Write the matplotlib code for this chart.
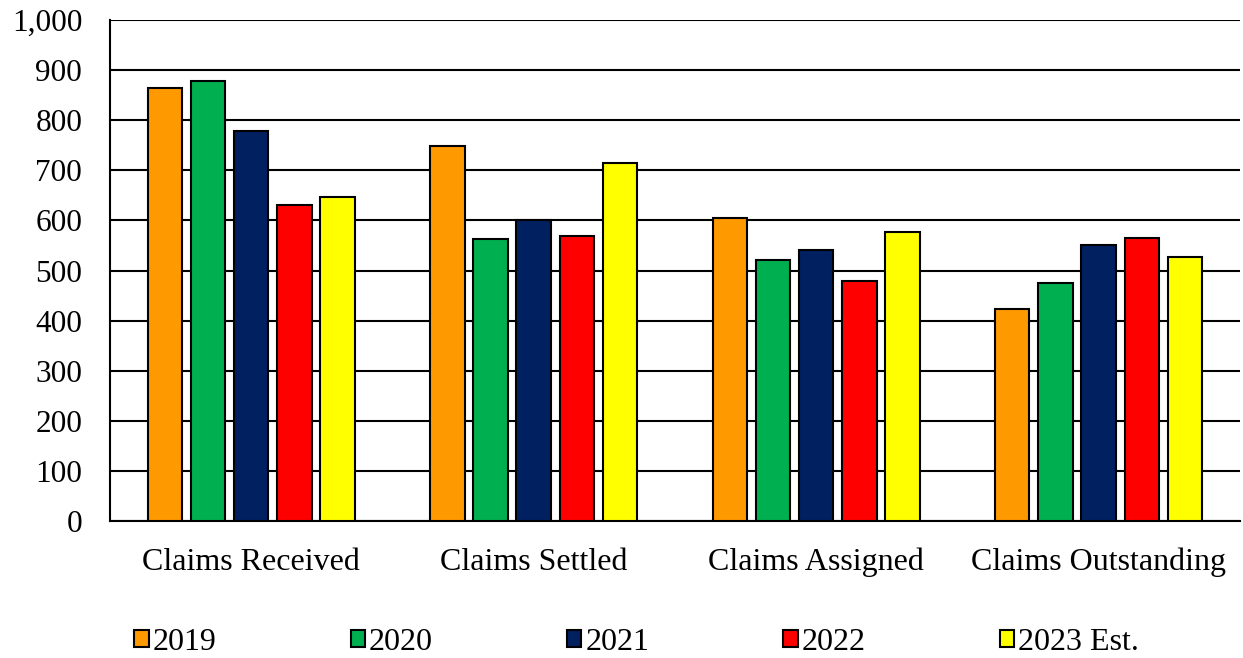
import numpy as np
import matplotlib.pyplot as plt
from matplotlib.ticker import FuncFormatter

plt.rcParams['font.family'] = ['Liberation Serif', 'DejaVu Serif']

categories = ['Claims Received', 'Claims Settled', 'Claims Assigned', 'Claims Outstanding']
series_labels = ['2019', '2020', '2021', '2022', '2023 Est.']
values_2019 = [865, 748, 605, 423]
values_2020 = [878, 563, 522, 475]
values_2021 = [779, 600, 541, 552]
values_2022 = [630, 569, 479, 566]
values_2023 = [647, 715, 577, 527]
colors = ['#FF9900', '#00B050', '#002060', '#FF0000', '#FFFF00']

all_values = [values_2019, values_2020, values_2021, values_2022, values_2023]

fig = plt.figure(figsize=(12.43, 6.58), dpi=100)
ax = fig.add_axes([0.0885, 0.208, 0.909, 0.7615])

x = np.arange(len(categories))
step = 0.153
width = 0.122
for i, (vals, lab, col) in enumerate(zip(all_values, series_labels, colors)):
    ax.bar(x + (i - 2) * step, vals, width, color=col, edgecolor='black',
           linewidth=1.5, label=lab, zorder=3)

ax.set_xlim(-0.5, 3.5)
ax.set_ylim(0, 1000)
ax.set_yticks(np.arange(0, 1001, 100))
ax.yaxis.set_major_formatter(FuncFormatter(lambda v, p: f'{int(v):,}'))
ax.set_xticks(x)
ax.set_xticklabels(categories)
ax.grid(axis='y', color='black', linewidth=1.5, zorder=0)
for s in ['top', 'right']:
    ax.spines[s].set_visible(False)
ax.spines['left'].set_linewidth(1.5)
ax.spines['bottom'].set_linewidth(1.5)
ax.tick_params(axis='y', labelsize=22.5, length=0, pad=20)
ax.tick_params(axis='x', labelsize=23, length=0, pad=19)

leg = fig.legend(loc='center left', bbox_to_anchor=(0.085, 0.024), ncol=5, frameon=False,
                 fontsize=23, handlelength=0.45, handleheight=0.45, handletextpad=0.12,
                 columnspacing=4.2)
for h in leg.legend_handles:
    h.set_linewidth(1.5)

fig.savefig('out.png', dpi=100)
